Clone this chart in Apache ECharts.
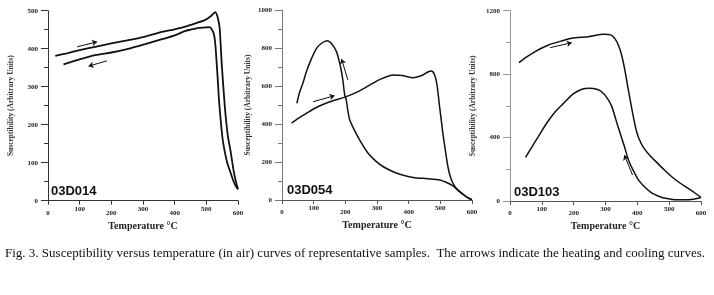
<!DOCTYPE html>
<html><head><meta charset="utf-8">
<script src="https://cdn.jsdelivr.net/npm/echarts@6/dist/echarts.min.js"></script>
<style>html,body{margin:0;padding:0;background:#fff}#c{width:714px;height:295px}</style>
</head><body><div id="c"></div>
<script>
// ---- data (temperature °C, susceptibility arbitrary units) ----
const s1Name = '03D014', s2Name = '03D054', s3Name = '03D103';

const d014HeatT   = [23, 60, 100, 149, 200, 250, 307, 360, 400, 434, 470, 497, 515, 528, 533, 538, 542, 549, 555, 560, 568, 576, 586, 594, 600];
const d014HeatChi = [381, 388, 396, 405, 414, 422, 432, 444, 451, 458, 468, 476, 486, 496, 490, 475, 455, 355, 285, 232, 170, 133, 80, 48, 30];
const d014CoolT   = [600, 592, 584, 576, 566, 558, 551, 545, 540, 536, 532, 528, 524, 518, 510, 500, 476, 450, 434, 400, 360, 307, 250, 200, 149, 100, 49];
const d014CoolChi = [30, 40, 55, 75, 100, 130, 165, 215, 265, 320, 370, 415, 438, 450, 457, 456, 455, 450, 447, 435, 425, 412, 399, 390, 383, 372, 359];

const d054HeatT   = [30, 50, 77, 110, 151, 203, 240, 277, 310, 351, 380, 414, 445, 462, 472, 482, 490, 497, 503, 508, 516, 524, 532, 540, 550, 561, 575, 590, 600];
const d054HeatChi = [404, 428, 456, 488, 517, 544, 570, 605, 635, 658, 655, 644, 658, 675, 679, 658, 600, 500, 420, 351, 260, 175, 120, 88, 62, 44, 25, 8, 2];
const d054CoolT   = [600, 582, 561, 540, 520, 498, 460, 414, 380, 351, 320, 298, 270, 245, 228, 214, 208, 203, 198, 193, 188, 180, 172, 158, 143, 125, 109, 92, 77, 65, 56, 47];
const d054CoolChi = [2, 18, 44, 74, 92, 105, 112, 119, 132, 149, 175, 202, 250, 316, 370, 421, 470, 526, 553, 620, 675, 735, 781, 820, 838, 825, 798, 740, 675, 610, 570, 509];

const d103HeatT   = [28, 50, 79, 100, 121, 160, 194, 246, 294, 310, 320, 330, 340, 350, 360, 370, 381, 390, 398, 407, 420, 440, 460, 485, 510, 535, 561, 580, 600];
const d103HeatChi = [872, 905, 942, 965, 984, 1008, 1026, 1036, 1051, 1050, 1043, 1022, 985, 925, 835, 720, 600, 505, 435, 385, 335, 285, 245, 195, 150, 112, 78, 52, 22];
const d103CoolT   = [600, 580, 560, 530, 510, 488, 467, 446, 425, 404, 388, 372, 360, 346, 333, 320, 305, 288, 275, 262, 248, 236, 215, 194, 170, 142, 115, 89, 70, 49];
const d103CoolChi = [22, 12, 8, 8, 10, 17, 30, 49, 85, 132, 190, 259, 340, 427, 510, 595, 650, 689, 703, 710, 711, 710, 695, 668, 620, 563, 490, 406, 345, 275];

// arrows: [x1, y1, x2, y2] tail -> head
const arrow014Heat = [92, 405, 155, 418];
const arrow014Cool = [186, 368, 128, 354];
const arrow054Heat = [98, 517, 166, 549];
const arrow054Cool = [208, 632, 188, 742];
const arrow103Heat = [126, 967, 194, 998];
const arrow103Cool = [385, 164, 359, 290];

const caption = 'Fig. 3. Susceptibility versus temperature (in air) curves of representative samples.  The arrows indicate the heating and cooling curves.';
const yTitle = 'Susceptibility (Arbitrary Units)';
const xTitle = 'Temperature °C';

// ---- build ----
const zip = (a, b) => a.map((v, i) => [v, b[i]]);
const serif = '"Liberation Serif", "Times New Roman", serif';

function xAxis(gi, color) {
  return {
    type: 'value', gridIndex: gi, min: 0, max: 600, interval: 100,
    name: xTitle, nameLocation: 'middle', nameGap: 20,
    nameTextStyle: { fontFamily: serif, fontWeight: 'bold', fontSize: 10, color: '#222' },
    axisLine: { show: true, onZero: false, lineStyle: { color: color, width: 1 } },
    axisTick: { show: true, inside: false, length: 4, lineStyle: { color: color } },
    splitLine: { show: false },
    axisLabel: {
      margin: 5, fontFamily: serif, fontWeight: 'bold', fontSize: 7, color: '#222',
      formatter: v => ((v / 100) % 2 ? '{u|' + v + '}' : '{d|' + v + '}'),
      rich: {
        u: { fontFamily: serif, fontWeight: 'bold', fontSize: 7, color: '#222', padding: [0, 0, 0, 0] },
        d: { fontFamily: serif, fontWeight: 'bold', fontSize: 7, color: '#222', padding: [4, 0, 0, 0] }
      }
    }
  };
}
function yAxis(gi, max, interval, color, gap) {
  return {
    type: 'value', gridIndex: gi, min: 0, max: max, interval: interval,
    name: yTitle, nameLocation: 'middle', nameGap: gap, nameRotate: 90,
    nameTextStyle: { fontFamily: serif, fontWeight: 'bold', fontSize: 7.5, color: '#333' },
    axisLine: { show: true, onZero: false, lineStyle: { color: color, width: 1 } },
    axisTick: { show: true, length: 7, lineStyle: { color: color } },
    minorTick: { show: true, splitNumber: 2, length: 4, lineStyle: { color: color } },
    splitLine: { show: false }, minorSplitLine: { show: false },
    axisLabel: { margin: 10, fontFamily: serif, fontWeight: 'bold', fontSize: 7, color: '#222', formatter: v => String(v) }
  };
}
function curve(gi, t, v, w) {
  return {
    type: 'line', xAxisIndex: gi, yAxisIndex: gi, data: zip(t, v),
    showSymbol: false, smooth: 0.25, lineStyle: { color: '#111', width: w }, silent: true, animation: false
  };
}
function arrow(gi, a) {
  return {
    type: 'lines', coordinateSystem: 'cartesian2d', xAxisIndex: gi, yAxisIndex: gi,
    symbol: ['none', 'arrow'], symbolSize: 5, animation: false, silent: true,
    lineStyle: { color: '#111', width: 1, opacity: 1 },
    data: [{ coords: [[a[0], a[1]], [a[2], a[3]]] }]
  };
}

const chart = echarts.init(document.getElementById('c'), null, { renderer: 'canvas' });
chart.setOption({
  backgroundColor: '#fff',
  animation: false,
  grid: [
    { left: 48, top: 10.7, width: 190, height: 190 },
    { left: 282, top: 10, width: 190, height: 190 },
    { left: 510, top: 10.7, width: 191, height: 190.3 }
  ],
  xAxis: [xAxis(0, '#333'), xAxis(1, '#555'), xAxis(2, '#555')],
  yAxis: [yAxis(0, 500, 100, '#333', 33), yAxis(1, 1000, 200, '#777', 30), yAxis(2, 1200, 400, '#999', 33)],
  series: [
    curve(0, d014HeatT, d014HeatChi, 1.8), curve(0, d014CoolT, d014CoolChi, 1.8),
    curve(1, d054HeatT, d054HeatChi, 1.5), curve(1, d054CoolT, d054CoolChi, 1.5),
    curve(2, d103HeatT, d103HeatChi, 1.5), curve(2, d103CoolT, d103CoolChi, 1.5),
    arrow(0, arrow014Heat), arrow(0, arrow014Cool),
    arrow(1, arrow054Heat), arrow(1, arrow054Cool),
    arrow(2, arrow103Heat), arrow(2, arrow103Cool)
  ],
  graphic: [
    { type: 'text', left: 51, top: 185, style: { text: s1Name, font: 'bold 13px "Liberation Sans", Arial, sans-serif', fill: '#111' } },
    { type: 'text', left: 287, top: 184, style: { text: s2Name, font: 'bold 13px "Liberation Sans", Arial, sans-serif', fill: '#111' } },
    { type: 'text', left: 514, top: 186, style: { text: s3Name, font: 'bold 13px "Liberation Sans", Arial, sans-serif', fill: '#111' } },
    { type: 'text', left: 5, top: 247, style: { text: caption, font: '13px "Liberation Serif", "Times New Roman", serif', fill: '#111' } }
  ]
});
</script>
</body></html>
